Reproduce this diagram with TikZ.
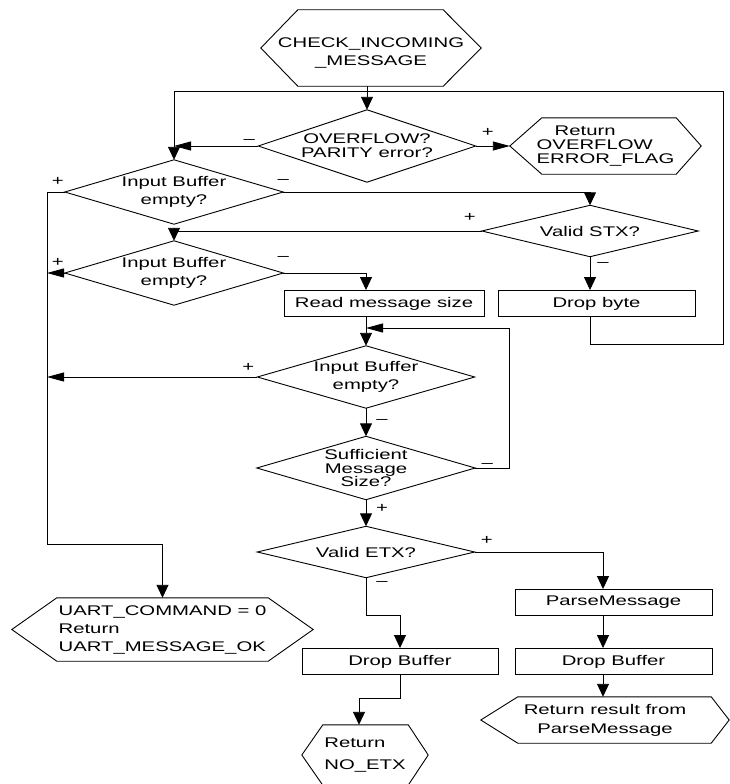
\documentclass[tikz,border=0pt]{standalone}
\usepackage{fontspec}
\setmainfont{Liberation Sans}
\usepackage{graphicx}
\usetikzlibrary{arrows.meta,calc}
\newcommand\xwide[1]{\scalebox{1.45}[1]{#1}}
\tikzset{
  base/.style={font=\fontsize{14}{18}\selectfont, inner sep=0pt, align=center, rectangle},
  shp/.style={base, draw=none},
  boxn/.style={base, draw, line width=0.9pt, minimum height=26pt},
  outl/.style={draw, line width=0.9pt},
  conn/.style={line width=0.9pt},
  av/.style={conn, -{Triangle[length=13pt,width=12pt]}},
  ah/.style={conn, -{Triangle[length=17pt,width=9pt]}},
  lbl/.style={font=\fontsize{14}{16}\selectfont, inner sep=0pt},
  tight/.style={font=\fontsize{14}{14}\selectfont}
}
\newcommand\diaout[1]{\draw[outl] (#1.west) -- (#1.north) -- (#1.east) -- (#1.south) -- cycle;}
\newcommand\hexout[3]{\draw[outl] (#1.west) -- ([xshift=#2pt]#1.north west) -- ([xshift=-#3pt]#1.north east) -- (#1.east) -- ([xshift=-#3pt]#1.south east) -- ([xshift=#2pt]#1.south west) -- cycle;}
\begin{document}
\begin{tikzpicture}[x=1pt,y=-1pt]
\useasboundingbox (0,0) rectangle (730,784);

% hexagons
\node[shp, minimum width=220pt, minimum height=76pt] (start) at (371,48) {\raisebox{-5pt}[\height][\depth]{\begin{tabular}{@{}c@{}}\xwide{CHECK\_INCOMING}\\\xwide{\_MESSAGE}\end{tabular}}};
\hexout{start}{37}{38}
\node[shp, tight, align=left, minimum width=191pt, minimum height=56pt] (ret1) at (605.5,146) {\hspace*{18pt}\xwide{Return}\\\xwide{OVERFLOW}\\\xwide{ERROR\_FLAG}};
\hexout{ret1}{32}{25}
\node[shp, align=left, minimum width=301pt, minimum height=63pt] (uart) at (162.5,629.5) {\xwide{UART\_COMMAND = 0}\\\xwide{Return}\\\xwide{UART\_MESSAGE\_OK}};
\hexout{uart}{45}{45}
\node[shp, font=\fontsize{14}{19}\selectfont, minimum width=248pt, minimum height=46pt] (ret2) at (605,720) {\xwide{Return result from}\\\xwide{ParseMessage}};
\hexout{ret2}{37}{18}
\node[shp, align=left, font=\fontsize{14}{22}\selectfont, minimum width=126pt, minimum height=60pt] (noetx) at (365,755) {\xwide{Return}\\\xwide{NO\_ETX}};
\hexout{noetx}{21}{20}

% diamonds
\node[shp, tight, minimum width=217pt, minimum height=72pt] (ovf) at (367,146) {\xwide{OVERFLOW?}\\\xwide{PARITY error?}};
\diaout{ovf}
\node[shp, minimum width=218pt, minimum height=64pt] (ib1) at (174,192) {\xwide{Input Buffer}\\\xwide{empty?}};
\diaout{ib1}
\node[shp, minimum width=216pt, minimum height=51pt] (stx) at (590,231) {\xwide{Valid STX?}};
\diaout{stx}
\node[shp, minimum width=218pt, minimum height=64pt] (ib2) at (174,273) {\xwide{Input Buffer}\\\xwide{empty?}};
\diaout{ib2}
\node[shp, minimum width=217pt, minimum height=62pt] (ib3) at (366,377) {\xwide{Input Buffer}\\\xwide{empty?}};
\diaout{ib3}
\node[shp, font=\fontsize{14}{13.5}\selectfont, minimum width=218pt, minimum height=63pt] (suf) at (366,468) {\xwide{Sufficient}\\\xwide{Message}\\\xwide{Size?}};
\diaout{suf}
\node[shp, minimum width=217pt, minimum height=51pt] (etx) at (366,552) {\xwide{Valid ETX?}};
\diaout{etx}

% boxes
\node[boxn, minimum width=200pt] (read) at (384,303.5) {\xwide{Read message size}};
\node[boxn, minimum width=197pt] (drop) at (596.5,303.5) {\xwide{Drop byte}};
\node[boxn, minimum width=196pt] (dbL) at (400,661.5) {\xwide{Drop Buffer}};
\node[boxn, minimum width=197pt] (parse) at (613.5,602.5) {\xwide{ParseMessage}};
\node[boxn, minimum width=197pt] (dbR) at (613.5,661.5) {\xwide{Drop Buffer}};

% helper coordinates
\coordinate (c1) at (723,344);
\coordinate (c2) at (723,91);
\coordinate (lb) at (47,544);
\coordinate (c3) at (509,328);
\coordinate (c4) at (366,615);
\coordinate (c5) at (359,698);
\coordinate (colR) at (603,0);

% connectors
\draw[av] (start.south -| ovf.north) -- (ovf.north);
\draw[av] (stx.south |- drop.south) |- (c1) -- (c2) -| (ib1.north);
\draw[ah] (ovf.west) -- (ovf.west -| ib1.north);
\draw[ah] (ovf.east) -- (ret1.west);
\draw[av] (ib1.west) -| (lb) -| (uart.north);
\draw[av] (ib1.east) -| (stx.north);
\draw[av] (stx.west) -| (ib2.north);
\draw[av] (stx.south) -- (stx.south |- drop.north);
\draw[ah] (ib2.west) -- (ib2.west -| lb);
\draw[av] (ib2.east) -| (ib3.north |- read.north);
\draw[av] (ib3.north |- read.south) -- (ib3.north);
\draw[ah] (ib3.west) -- (ib3.west -| lb);
\draw[av] (ib3.south) -- (suf.north);
\draw[ah] (suf.east) -| (c3) -- (ib3.north |- c3);
\draw[av] (suf.south) -- (etx.north);
\draw[av] (etx.east) -| (colR |- parse.north);
\draw[av] (etx.south) -- (c4) -| (dbL.north);
\draw[av] (dbL.south) |- (c5) -- (c5 |- noetx.north);
\draw[av] (colR |- parse.south) -- (colR |- dbR.north);
\draw[av] (colR |- dbR.south) -- (colR |- ret2.north);

% branch labels
\node[lbl] (l1) at ([shift={(-9,-5)}]ovf.west) {\xwide{–}};
\node[lbl] (l2) at ([shift={(12,-14)}]ovf.east) {\xwide{+}};
\node[lbl] (l3) at ([shift={(-7,-11)}]ib1.west) {\xwide{+}};
\node[lbl] (l4) at ([shift={(0,-11)}]ib1.east) {\xwide{–}};
\node[lbl] (l5) at ([shift={(-12,-14)}]stx.west) {\xwide{+}};
\node[lbl] (l6) at ([shift={(13,8)}]stx.south) {\xwide{–}};
\node[lbl] (l7) at ([shift={(-7,-11)}]ib2.west) {\xwide{+}};
\node[lbl] (l8) at ([shift={(0,-15)}]ib2.east) {\xwide{–}};
\node[lbl] (l9) at ([shift={(-9,-10)}]ib3.west) {\xwide{+}};
\node[lbl] (l10) at ([shift={(16,13)}]ib3.south) {\xwide{–}};
\node[lbl] (l11) at ([shift={(12,-3)}]suf.east) {\xwide{–}};
\node[lbl] (l12) at ([shift={(16,9)}]suf.south) {\xwide{+}};
\node[lbl] (l13) at ([shift={(12,-12)}]etx.east) {\xwide{+}};
\node[lbl] (l14) at ([shift={(16,6)}]etx.south) {\xwide{–}};
\end{tikzpicture}
\end{document}
